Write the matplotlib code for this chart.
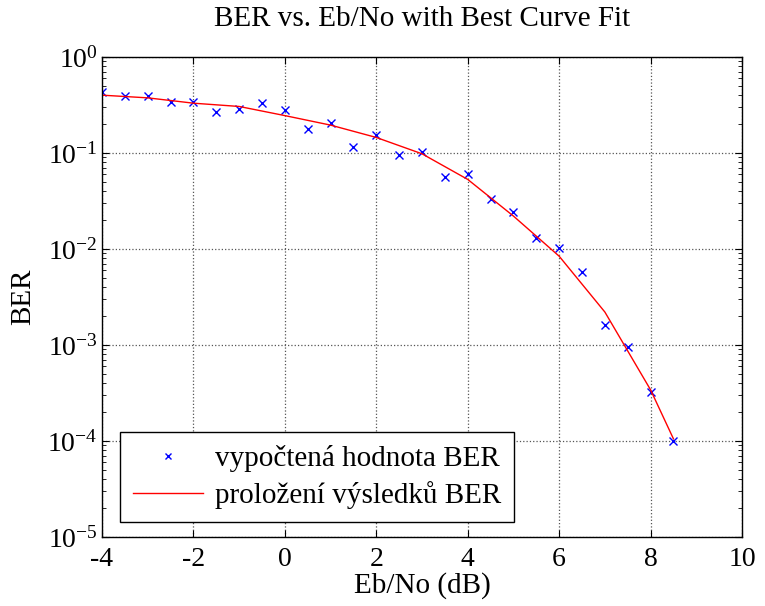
import numpy as np
import matplotlib
matplotlib.use("Agg")
import matplotlib.pyplot as plt
from matplotlib.ticker import LogLocator, NullFormatter, FixedLocator

ebno = [-4, -3.5, -3, -2.5, -2, -1.5, -1, -0.5, 0, 0.5, 1, 1.5, 2, 2.5, 3, 3.5,
        4, 4.5, 5, 5.5, 6, 6.5, 7, 7.5, 8, 8.5]
ber = [0.43, 0.39, 0.39, 0.34, 0.34, 0.27, 0.29, 0.33, 0.28, 0.178, 0.205, 0.115,
       0.154, 0.095, 0.102, 0.056, 0.060, 0.033, 0.024, 0.0129, 0.0102, 0.0058,
       0.0016, 0.00095, 0.00032, 0.0001]

fit_x = [-4, -3, -2, -1, 0, 1, 2, 3, 4, 5, 6, 7, 8, 8.5]
fit_y = [0.40, 0.375, 0.33, 0.305, 0.245, 0.195, 0.145, 0.098, 0.053, 0.022,
         0.0084, 0.0022, 0.00034, 0.000105]

xticks = [-4, -2, 0, 2, 4, 6, 8, 10]

plt.rcParams['font.family'] = ['Liberation Serif', 'DejaVu Serif']
plt.rcParams['mathtext.fontset'] = 'custom'
plt.rcParams['mathtext.rm'] = 'Liberation Serif'
plt.rcParams['axes.unicode_minus'] = False

fig = plt.figure(figsize=(7.65, 6.06), dpi=100)
ax = fig.add_axes([0.1333, 0.114, 0.8367, 0.792])

ax.semilogy(ebno, ber, 'x', color='blue', markersize=6, markeredgewidth=1.0,
            label='vypočtená hodnota BER')
ax.semilogy(fit_x, fit_y, '-', color='red', linewidth=1,
            label='proložení výsledků BER')

ax.set_xlim(-4, 10)
ax.set_ylim(1e-5, 1e0)
ax.xaxis.set_major_locator(FixedLocator(xticks))
ax.yaxis.set_major_locator(LogLocator(base=10, numticks=10))
ax.yaxis.set_minor_locator(LogLocator(base=10, subs=np.arange(2, 10), numticks=20))
ax.yaxis.set_minor_formatter(NullFormatter())

ax.grid(True, which='major', linestyle=':', color='#555555', linewidth=0.9)
ax.tick_params(which='both', direction='in', top=True, right=True, labelsize=20)
ax.tick_params(axis='x', which='major', pad=7)
ax.tick_params(axis='y', which='major', pad=3)
ax.tick_params(which='major', length=5)
ax.tick_params(which='minor', length=3)
for s in ax.spines.values():
    s.set_linewidth(1.0)

ax.set_title('BER vs. Eb/No with Best Curve Fit', fontsize=21, pad=22)
ax.set_xlabel('Eb/No (dB)', fontsize=21, labelpad=0)
ax.set_ylabel('BER', fontsize=21, labelpad=8)

leg = ax.legend(loc='lower left', bbox_to_anchor=(0.028, 0.031), fontsize=21,
                fancybox=False, edgecolor='black', framealpha=1,
                borderaxespad=0, handlelength=2.4, markerscale=0.7,
                labelspacing=0.3, borderpad=0.45, handletextpad=0.4)
leg.get_frame().set_linewidth(1.0)

fig.savefig('out.png', dpi=100)
